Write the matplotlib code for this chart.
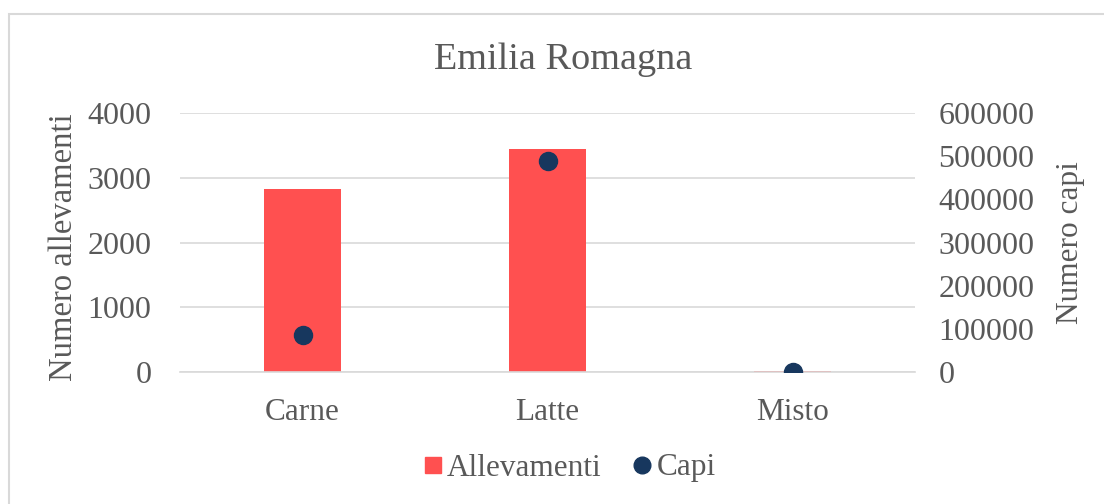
import matplotlib
matplotlib.use('Agg')
import matplotlib.pyplot as plt
from matplotlib.patches import Rectangle
from matplotlib.lines import Line2D

# Data
categories = ['Carne', 'Latte', 'Misto']
allevamenti = [2820, 3440, 20]
capi = [86000, 489000, 1000]

left_ticks = [0, 1000, 2000, 3000, 4000]
right_ticks = [0, 100000, 200000, 300000, 400000, 500000, 600000]

TEXT = '#595959'
BAR = '#FF5050'
DOT = '#17375E'
GRID = '#D9D9D9'
W, H = 1104, 504

plt.rcParams['font.family'] = ['Liberation Serif', 'DejaVu Serif']

fig = plt.figure(figsize=(W / 100, H / 100), dpi=100)
# Outer chart border (runs off the right and bottom edges)
fig.patches.append(Rectangle((9 / W, -10 / H), 1110 / W, (H - 14 + 10) / H,
                             transform=fig.transFigure, fill=False,
                             edgecolor=GRID, linewidth=1.5))

ax = fig.add_axes([180 / W, 1 - 372 / H, 735 / W, 259 / H])
ax2 = ax.twinx()

x = list(range(len(categories)))
ax.bar(x, allevamenti, width=0.315, color=BAR, zorder=2)
ax2.plot(x, capi, linestyle='none', marker='o', markersize=13,
         color=DOT, zorder=3)

ax.set_xlim(-0.5, 2.5)
ax.set_ylim(0, 4000)
ax2.set_ylim(0, 600000)
ax.set_yticks(left_ticks)
ax2.set_yticks(right_ticks)
ax.set_xticks(x)
ax.set_xticklabels(categories)

ax.yaxis.grid(True, color=GRID, linewidth=1.2, zorder=0)
ax.set_axisbelow(True)
for a in (ax, ax2):
    for s in a.spines.values():
        s.set_visible(False)
    a.tick_params(length=0, labelsize=23, colors=TEXT)
ax.spines['bottom'].set_visible(True)
ax.spines['bottom'].set_color(GRID)
ax.spines['bottom'].set_linewidth(1.2)
ax.tick_params(axis='x', pad=19, labelsize=22.5)
ax.tick_params(axis='y', pad=20.5)
ax2.tick_params(axis='y', pad=17)

ax.set_ylabel('Numero allevamenti', fontsize=23.5, color=TEXT)
ax.yaxis.set_label_coords((79 - 180) / 735, (372 - 247) / 259)
ax2.set_ylabel('Numero capi', fontsize=22.5, color=TEXT)
ax2.yaxis.set_label_coords((1056 - 180) / 735, 0.5)
fig.text(563 / W, 1 - 60 / H, 'Emilia Romagna', fontsize=27.5, color=TEXT,
         ha='center', va='center')

handles = [
    Line2D([], [], linestyle='none', marker='s', markersize=11.5, color=BAR),
    Line2D([], [], linestyle='none', marker='o', markersize=12, color=DOT),
]
leg = fig.legend(handles, ['Allevamenti', 'Capi'], loc='center',
                 bbox_to_anchor=(568 / W, 1 - 468 / H), ncol=2, frameon=False,
                 fontsize=22.5, handletextpad=0.05, columnspacing=0.9,
                 handlelength=0.8)
for t in leg.get_texts():
    t.set_color(TEXT)

fig.savefig('out.png', dpi=100)
